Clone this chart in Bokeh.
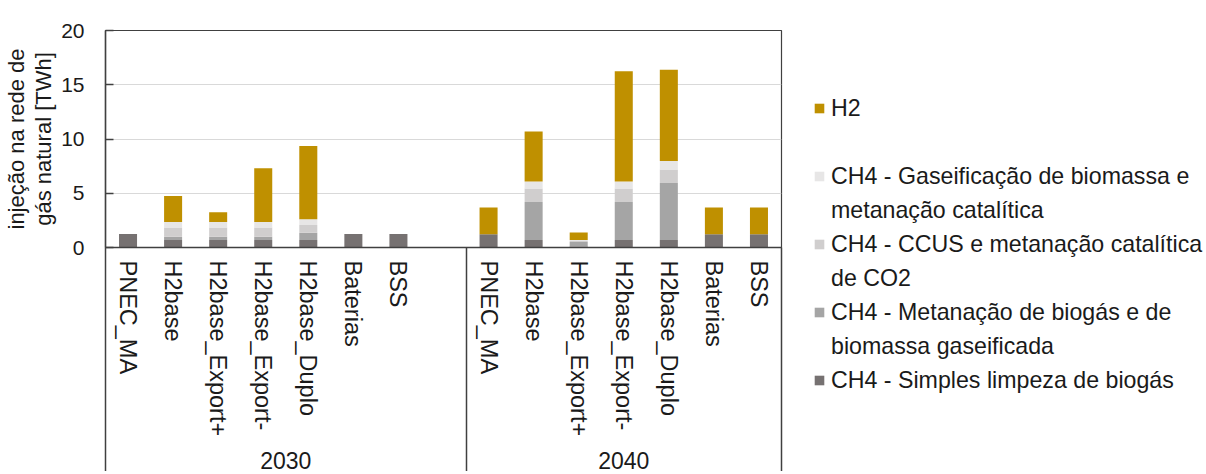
import math
from bokeh.plotting import figure
from bokeh.models import (ColumnDataSource, FixedTicker, Legend, LegendItem,
                          LinearAxis, Range1d)
from bokeh.embed import file_html
from bokeh.resources import INLINE

# ---------------- data ----------------
scenarios = ["PNEC_MA", "H2base", "H2base_Export+", "H2base_Export-",
             "H2base_Duplo", "Baterias", "BSS"]
years = ["2030", "2040"]

series_names = [
    "CH4 - Simples limpeza de biogás",
    "CH4 - Metanação de biogás e de\nbiomassa gaseificada",
    "CH4 - CCUS e metanação catalítica\nde CO2",
    "CH4 - Gaseificação de biomassa e\nmetanação catalítica",
    "H2",
]

# 2030
simples_2030 = [1.24, 0.70, 0.70, 0.70, 0.70, 1.24, 1.24]
metan_2030 = [0.00, 0.30, 0.30, 0.30, 0.66, 0.00, 0.00]
ccus_2030 = [0.00, 0.85, 0.85, 0.85, 0.72, 0.00, 0.00]
gaseif_2030 = [0.00, 0.50, 0.50, 0.50, 0.52, 0.00, 0.00]
h2_2030 = [0.00, 2.40, 0.90, 4.95, 6.75, 0.00, 0.00]

# 2040
simples_2040 = [1.23, 0.70, 0.10, 0.70, 0.70, 1.23, 1.23]
metan_2040 = [0.00, 3.50, 0.40, 3.50, 5.25, 0.00, 0.00]
ccus_2040 = [0.00, 1.23, 0.15, 1.23, 1.23, 0.00, 0.00]
gaseif_2040 = [0.00, 0.65, 0.05, 0.65, 0.80, 0.00, 0.00]
h2_2040 = [2.46, 4.60, 0.68, 10.17, 8.40, 2.46, 2.46]

y_ticks = [0, 5, 10, 15, 20]

colors = ["#767171", "#A5A5A5", "#D0CECE", "#E7E6E6", "#BF9000"]
FONT = "Liberation Sans"
TXT = "#1a1a1a"
LINE = "#404040"

# ---------------- layout of slots ----------------
n = len(scenarios)
slots_per_group = n + 1          # one empty slot after the 2030 group
x2030 = [i + 0.5 for i in range(n)]
x2040 = [slots_per_group + i + 0.5 for i in range(n)]
n_slots = slots_per_group + n

src = ColumnDataSource(dict(
    x=x2030 + x2040,
    simples=simples_2030 + simples_2040,
    metan=metan_2030 + metan_2040,
    ccus=ccus_2030 + ccus_2040,
    gaseif=gaseif_2030 + gaseif_2040,
    h2=h2_2030 + h2_2040,
))
stack_keys = ["simples", "metan", "ccus", "gaseif", "h2"]

p = figure(frame_width=676, frame_height=217,
           x_range=Range1d(0, n_slots), y_range=Range1d(0, 20),
           output_backend="svg", toolbar_location=None,
           min_border_top=30, min_border_left=97, min_border_bottom=0,
           min_border_right=0)

renderers = p.vbar_stack(stack_keys, x="x", width=0.4, source=src,
                         fill_color=colors, line_color=None)

# ---- y axis ----
ya = p.yaxis[0]
ya.ticker = FixedTicker(ticks=y_ticks)
ya.major_tick_in = 8
ya.major_tick_out = 0
ya.minor_tick_line_color = None
ya.axis_line_color = LINE
ya.axis_line_width = 1.5
ya.major_tick_line_color = LINE
ya.major_tick_line_width = 1.5
ya.major_label_text_font = FONT
ya.major_label_text_font_size = "21px"
ya.major_label_text_color = TXT
ya.major_label_standoff = 21
ya.axis_label = "injeção na rede de\ngás natural [TWh]"
ya.axis_label_text_font = FONT
ya.axis_label_text_font_size = "22px"
ya.axis_label_text_font_style = "normal"
ya.axis_label_text_line_height = 1.1
ya.axis_label_text_color = TXT
ya.axis_label_standoff = 2

# ---- x axis (scenario labels + group dividers as outward minor ticks) ----
xa = p.xaxis[0]
xa.ticker = FixedTicker(ticks=x2030 + x2040,
                        minor_ticks=[0, slots_per_group, n_slots])
overrides = {x: s for x, s in zip(x2030, scenarios)}
overrides.update({x: s for x, s in zip(x2040, scenarios)})
xa.major_label_overrides = overrides
xa.major_label_orientation = "vertical"
xa.major_tick_line_color = None
xa.major_tick_in = 0
xa.major_tick_out = 0
xa.minor_tick_in = -227
xa.minor_tick_out = 0
xa.minor_tick_line_color = LINE
xa.minor_tick_line_width = 1.5
xa.axis_line_color = LINE
xa.axis_line_width = 1.5
xa.major_label_text_font = FONT
xa.major_label_text_font_size = "23.5px"
xa.major_label_text_color = TXT
xa.major_label_standoff = 13

# ---- year axis ----
year_axis = LinearAxis(
    ticker=FixedTicker(ticks=[slots_per_group / 2, slots_per_group + n / 2]),
    major_label_overrides={slots_per_group / 2: years[0],
                           slots_per_group + n / 2: years[1]},
    axis_line_color=None, major_tick_line_color=None,
    minor_tick_line_color=None, major_tick_in=0, major_tick_out=0,
    major_label_standoff=12, major_label_text_font=FONT,
    major_label_text_font_size="23px", major_label_text_color=TXT)
p.add_layout(year_axis, "below")

# ---- grid / frame ----
p.xgrid.visible = False
p.ygrid.ticker = FixedTicker(ticks=y_ticks[1:-1])
p.ygrid.grid_line_color = "#D9D9D9"
p.ygrid.grid_line_width = 1
p.outline_line_color = LINE
p.outline_line_width = 1.2
p.background_fill_color = "white"
p.border_fill_color = "white"

# ---- legend: one line per entry; continuation lines get a blank swatch ----
blank = p.vbar(x=[], top=[], width=0.4, fill_alpha=0, line_alpha=0)
order = [4, 3, 2, 1, 0]
items = []
for k, i in enumerate(order):
    parts = series_names[i].split("\n")
    items.append(LegendItem(label=parts[0], renderers=[renderers[i]]))
    if len(parts) > 1:
        items.append(LegendItem(label=parts[1], renderers=[blank]))
    elif k < len(order) - 1:
        items.append(LegendItem(label=" ", renderers=[blank]))

legend = Legend(items=items, location="top_left",
                label_text_font=FONT, label_text_font_size="23.2px",
                label_text_color=TXT, glyph_width=12, glyph_height=12,
                label_height=28, label_standoff=6, spacing=6,
                padding=0, margin=32,
                title=" ", title_text_font_size="4px", title_standoff=27,
                border_line_color=None, background_fill_alpha=0)
p.add_layout(legend, "right")

open("out.html", "w").write(file_html(p, INLINE))
